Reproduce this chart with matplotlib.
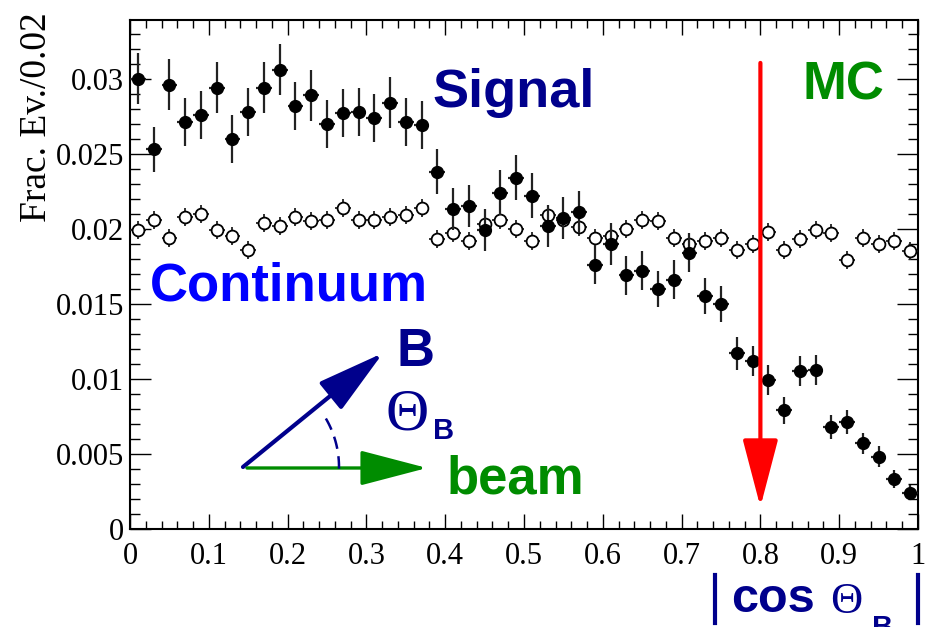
import numpy as np
import matplotlib
matplotlib.use("Agg")
import matplotlib.pyplot as plt
from matplotlib.patches import FancyArrowPatch
from matplotlib.lines import Line2D

# ---------------- data ----------------
bin_centers = [0.01, 0.03, 0.05, 0.07, 0.09, 0.11, 0.13, 0.15, 0.17, 0.19,
               0.21, 0.23, 0.25, 0.27, 0.29, 0.31, 0.33, 0.35, 0.37, 0.39,
               0.41, 0.43, 0.45, 0.47, 0.49, 0.51, 0.53, 0.55, 0.57, 0.59,
               0.61, 0.63, 0.65, 0.67, 0.69, 0.71, 0.73, 0.75, 0.77, 0.79,
               0.81, 0.83, 0.85, 0.87, 0.89, 0.91, 0.93, 0.95, 0.97, 0.99]
bin_halfwidth = 0.01

signal = [0.0300, 0.0253, 0.0296, 0.0271, 0.0276, 0.0294, 0.0260, 0.0278, 0.0294, 0.0306,
          0.0282, 0.0289, 0.0270, 0.0277, 0.0278, 0.0274, 0.0284, 0.0271, 0.0269, 0.0238,
          0.0213, 0.0215, 0.0199, 0.0224, 0.0234, 0.0222, 0.0202, 0.0207, 0.0211, 0.0176,
          0.0190, 0.0169, 0.0172, 0.0160, 0.0166, 0.0184, 0.0155, 0.0150, 0.0117, 0.0112,
          0.0099, 0.0079, 0.0105, 0.0106, 0.0068, 0.0071, 0.0057, 0.0048, 0.0033, 0.0024]
signal_err = [0.0017, 0.0015, 0.0017, 0.0016, 0.0016, 0.0017, 0.0016, 0.0016, 0.0017, 0.0017,
              0.0016, 0.0017, 0.0016, 0.0016, 0.0016, 0.0016, 0.0017, 0.0016, 0.0016, 0.0015,
              0.0014, 0.0014, 0.0014, 0.0015, 0.0015, 0.0015, 0.0014, 0.0014, 0.0014, 0.0013,
              0.0014, 0.0013, 0.0013, 0.0012, 0.0013, 0.0013, 0.0012, 0.0012, 0.0011, 0.0010,
              0.0010, 0.0009, 0.0010, 0.0010, 0.0008, 0.0008, 0.0007, 0.0007, 0.0006, 0.0005]

continuum = [0.0199, 0.0206, 0.0194, 0.0208, 0.0210, 0.0199, 0.0195, 0.0186, 0.0204, 0.0202,
             0.0208, 0.0205, 0.0206, 0.0214, 0.0206, 0.0206, 0.0208, 0.0209, 0.0214, 0.0193,
             0.0197, 0.0192, 0.0203, 0.0206, 0.0200, 0.0192, 0.0209, 0.0206, 0.0201, 0.0194,
             0.0195, 0.0200, 0.0206, 0.0205, 0.0194, 0.0190, 0.0192, 0.0194, 0.0186, 0.0190,
             0.0198, 0.0186, 0.0193, 0.0199, 0.0197, 0.0179, 0.0194, 0.0190, 0.0192, 0.0185]
continuum_err = [0.0006] * 50

x_ticks = [0.0, 0.1, 0.2, 0.3, 0.4, 0.5, 0.6, 0.7, 0.8, 0.9, 1.0]
x_ticklabels = ["0", "0.1", "0.2", "0.3", "0.4", "0.5", "0.6", "0.7", "0.8", "0.9", "1"]
y_ticks = [0.0, 0.005, 0.01, 0.015, 0.02, 0.025, 0.03]
y_ticklabels = ["0", "0.005", "0.01", "0.015", "0.02", "0.025", "0.03"]
cut_value = 0.8

# ---------------- figure ----------------
W, H = 933, 627
fig = plt.figure(figsize=(W / 100, H / 100), dpi=100)

def fx(px):
    return px / W

def fy(py):
    return 1 - py / H

ax = fig.add_axes([fx(130), fy(529), fx(918) - fx(130), fy(20) - fy(529)])
ax.set_xlim(0, 1)
ax.set_ylim(0, 0.03393)

NAVY = "#00008C"
GREEN = "#008C00"
BLUE = "#0000FF"
RED = "#FF0000"

ax.errorbar(bin_centers, continuum, yerr=continuum_err, xerr=bin_halfwidth,
            fmt="o", ms=8.5, mfc="white", mec="black", mew=1.3,
            ecolor="#222222", elinewidth=1.3, capsize=0, zorder=3)
ax.errorbar(bin_centers, signal, yerr=signal_err, xerr=bin_halfwidth,
            fmt="o", ms=8.5, mfc="black", mec="black", mew=1.0,
            ecolor="#222222", elinewidth=1.6, capsize=0, zorder=4)

# ticks
ax.set_xticks(x_ticks)
ax.set_xticklabels(x_ticklabels)
ax.set_yticks(y_ticks)
ax.set_yticklabels(y_ticklabels)
ax.set_xticks(np.arange(0, 1.0001, 0.02), minor=True)
ax.set_yticks(np.arange(0, 0.0339, 0.001), minor=True)
serif = "Liberation Serif"
for lab in ax.get_xticklabels() + ax.get_yticklabels():
    lab.set_fontfamily(serif)
    lab.set_fontsize(22)
ax.tick_params(axis="x", which="major", direction="in", length=11, width=1.0,
               top=True, pad=9)
ax.tick_params(axis="x", which="minor", direction="in", length=5.5, width=1.0, top=True)
ax.tick_params(axis="y", which="major", direction="in", length=15, width=1.0,
               right=True, pad=4)
ax.tick_params(axis="y", which="minor", direction="in", length=7.5, width=1.0, right=True)
for sp in ax.spines.values():
    sp.set_linewidth(1.5)

# y label
fig.text(fx(37), fy(117), "Frac. Ev./0.02", rotation=90, ha="center", va="center",
         fontfamily=serif, fontsize=27)

# labels in plot
sans = "Liberation Sans"
fig.text(fx(432), fy(107), "Signal", color=NAVY, fontfamily=sans, fontweight="bold",
         fontsize=39, ha="left", va="baseline")
fig.text(fx(150), fy(300), "Continuum", color=BLUE, fontfamily=sans, fontweight="bold",
         fontsize=38, ha="left", va="baseline")
fig.text(fx(802), fy(99), "MC", color=GREEN, fontfamily=sans, fontweight="bold",
         fontsize=38, ha="left", va="baseline")
fig.text(fx(397), fy(366), "B", color=NAVY, fontfamily=sans, fontweight="bold",
         fontsize=38, ha="left", va="baseline")
fig.text(fx(386), fy(429), "\u0398", color=NAVY, fontfamily=serif,
         fontsize=43, ha="left", va="baseline")
fig.text(fx(433), fy(439), "B", color=NAVY, fontfamily=sans, fontweight="bold",
         fontsize=21, ha="left", va="baseline")
fig.text(fx(447), fy(493), "beam", color=GREEN, fontfamily=sans, fontweight="bold",
         fontsize=38, ha="left", va="baseline")

# x label |cos Θ_B|
fig.text(fx(731), fy(612), "cos", color=NAVY, fontfamily=sans, fontweight="bold",
         fontsize=35, ha="left", va="baseline")
fig.text(fx(830), fy(613), "\u0398", color=NAVY, fontfamily=serif,
         fontsize=32, ha="left", va="baseline")
fig.text(fx(872), fy(636), "B", color=NAVY, fontfamily=sans, fontweight="bold",
         fontsize=21, ha="left", va="baseline")
for bx in (715, 918):
    fig.add_artist(Line2D([fx(bx), fx(bx)], [fy(575), fy(623)],
                          transform=fig.transFigure, color=NAVY, lw=3))

# diagram: arrows and angle arc (in axes data coords)
def to_data(px, py):
    return ((px - 130) / 788.0, (529 - py) / 15000.0)

ox, oy = to_data(243, 467)
b_tip = to_data(383, 353)
beam_start = to_data(247, 468)
beam_tip = to_data(427, 468)

arrow_style = "-|>,head_length=42,head_width=11"
ax.add_patch(FancyArrowPatch((ox, oy), b_tip, arrowstyle=arrow_style, mutation_scale=1,
                             color=NAVY, lw=3, shrinkA=0, shrinkB=0, zorder=5))
ax.add_patch(FancyArrowPatch(beam_start, beam_tip, arrowstyle=arrow_style, mutation_scale=1,
                             color=GREEN, lw=2.4, shrinkA=0, shrinkB=0, zorder=5))
t = np.radians(np.linspace(-1, 32, 40))
r_px = 96
ax.plot(ox + r_px * np.cos(t) / 788.0, oy + r_px * np.sin(t) / 15000.0,
        color=NAVY, lw=1.8, ls=(0, (5, 3)), zorder=5)

# cut arrow
ax.add_patch(FancyArrowPatch((cut_value, 0.03107), (cut_value, 0.00147),
                             arrowstyle=arrow_style, mutation_scale=1,
                             color=RED, lw=3, shrinkA=0, shrinkB=0, zorder=6))

fig.savefig("out.png", dpi=100)
